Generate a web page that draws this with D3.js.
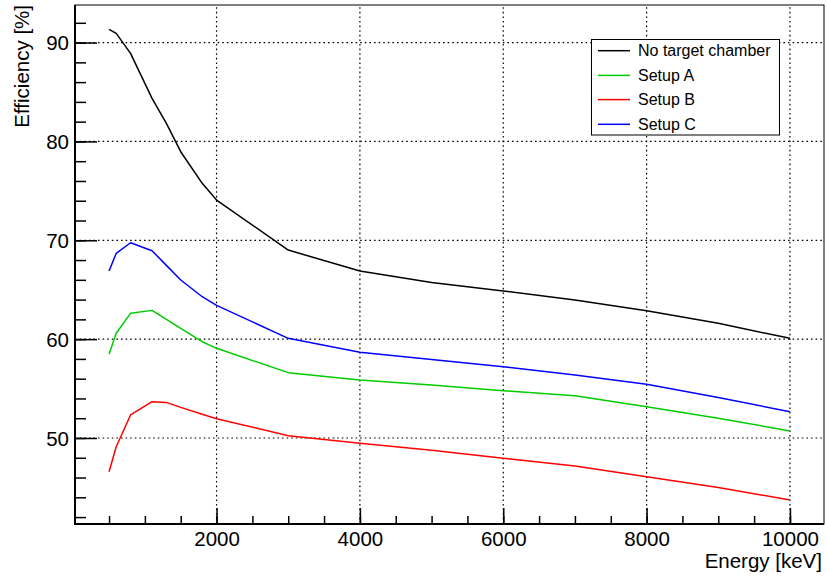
<!DOCTYPE html>
<html><head><meta charset="utf-8">
<script src="https://cdn.jsdelivr.net/npm/d3@7"></script>
<style>body{margin:0;background:#fff}svg{display:block}text{font-family:"Liberation Sans",Arial,sans-serif}</style>
</head><body><svg id="c" width="827" height="579"></svg>
<script>
const energies = [500,600,800,1100,1300,1500,1800,2000,3000,4000,5000,6000,7000,8000,9000,10000];
const noTarget = [91.33,90.93,88.91,84.35,81.83,78.96,75.76,74.07,69.01,66.89,65.74,64.87,63.96,62.88,61.6,60.08];
const setupA   = [58.46,60.59,62.61,62.91,62.0,61.1,59.74,59.07,56.61,55.87,55.35,54.78,54.28,53.17,52.0,50.71];
const setupB   = [46.59,49.12,52.33,53.67,53.6,53.1,52.4,51.95,50.23,49.46,48.75,47.95,47.17,46.09,45.0,43.73];
const setupC   = [66.89,68.68,69.75,68.94,67.46,65.98,64.29,63.42,60.08,58.67,57.95,57.21,56.37,55.43,54.1,52.66];
const seriesNames = ["No target chamber","Setup A","Setup B","Setup C"];
const seriesColors = ["#000000","#00cc00","#ff0000","#0000ff"];
const xTicks = [2000,4000,6000,8000,10000];
const yTicks = [50,60,70,80,90];
const xTitle = "Energy [keV]";
const yTitle = "Efficiency [%]";

const series = [noTarget,setupA,setupB,setupC];
const svg = d3.select("#c");
const L=75,R=824,T=5,B=524;
const x = d3.scaleLinear().domain([25,10475]).range([L,R]);
const y = d3.scaleLinear().domain([41.3,93.8]).range([B,T]);

// grid
const g = svg.append("g");
xTicks.forEach(v=>g.append("line").attr("x1",x(v)).attr("x2",x(v)).attr("y1",B).attr("y2",T)
  .attr("stroke","#000").attr("stroke-width",1.2).attr("stroke-dasharray","1.6,3"));
yTicks.forEach(v=>g.append("line").attr("x1",L).attr("x2",R).attr("y1",y(v)).attr("y2",y(v))
  .attr("stroke","#000").attr("stroke-width",1.2).attr("stroke-dasharray","1.6,3"));

// frame
svg.append("rect").attr("x",L).attr("y",T).attr("width",R-L).attr("height",B-T)
  .attr("fill","none").attr("stroke","#000").attr("stroke-width",1);

// axes with inward ticks
const xMinor = d3.range(500,10475,500);
const yMinor = d3.range(42,93.8,2);
const xa = d3.axisBottom(x).tickValues(xMinor).tickSize(-8).tickFormat("");
svg.append("g").attr("transform",`translate(0,${B})`).call(xa).call(s=>{s.select(".domain").remove();s.selectAll("line").attr("stroke","#000").attr("stroke-width",1.5);});
const xA = d3.axisBottom(x).tickValues(xTicks).tickSize(-16).tickPadding(5).tickFormat(d3.format("d"));
svg.append("g").attr("transform",`translate(0,${B})`).call(xA).call(s=>{s.select(".domain").remove();s.selectAll("line").attr("stroke","#000").attr("stroke-width",1.5);
  s.selectAll("text").attr("font-size",20.5).attr("fill","#000").attr("dy","0").attr("y",22);});
const ya = d3.axisLeft(y).tickValues(yMinor).tickSize(-11).tickFormat("");
svg.append("g").attr("transform",`translate(${L},0)`).call(ya).call(s=>{s.select(".domain").remove();s.selectAll("line").attr("stroke","#000").attr("stroke-width",1.5);});
const yA = d3.axisLeft(y).tickValues(yTicks).tickSize(-22).tickFormat(d3.format("d"));
svg.append("g").attr("transform",`translate(${L},0)`).call(yA).call(s=>{s.select(".domain").remove();s.selectAll("line").attr("stroke","#000").attr("stroke-width",1.5);
  s.selectAll("text").attr("font-size",20.5).attr("fill","#000").attr("x",-6).attr("dy","0.36em");});
svg.append("line").attr("x1",L).attr("x2",L).attr("y1",T).attr("y2",B+1).attr("stroke","#000").attr("stroke-width",2);
svg.append("line").attr("x1",L-1).attr("x2",R).attr("y1",B).attr("y2",B).attr("stroke","#000").attr("stroke-width",2);

// lines
const line = d3.line().x((d,i)=>x(energies[i])).y(d=>y(d));
series.forEach((s,k)=>svg.append("path").datum(s).attr("d",line).attr("fill","none")
  .attr("stroke",seriesColors[k]).attr("stroke-width",1.5).attr("stroke-linejoin","round"));

// titles
svg.append("text").attr("x",822).attr("y",568).attr("text-anchor","end").attr("font-size",20.5).text(xTitle);
svg.append("text").attr("transform","translate(29,5) rotate(-90)").attr("text-anchor","end").attr("font-size",20.5).text(yTitle);

// legend
const lg = svg.append("g");
lg.append("rect").attr("x",591.5).attr("y",39.5).attr("width",188).attr("height",95.5)
  .attr("fill","#fff").attr("stroke","#000").attr("stroke-width",1);
const rowY = [50.7,75.4,99.6,124.3];
seriesNames.forEach((n,k)=>{
  lg.append("line").attr("x1",598).attr("x2",630).attr("y1",rowY[k]).attr("y2",rowY[k]).attr("stroke",seriesColors[k]).attr("stroke-width",1.5);
  lg.append("text").attr("x",638).attr("y",rowY[k]).attr("dy","0.36em").attr("font-size",16).text(n);
});
</script></body></html>
